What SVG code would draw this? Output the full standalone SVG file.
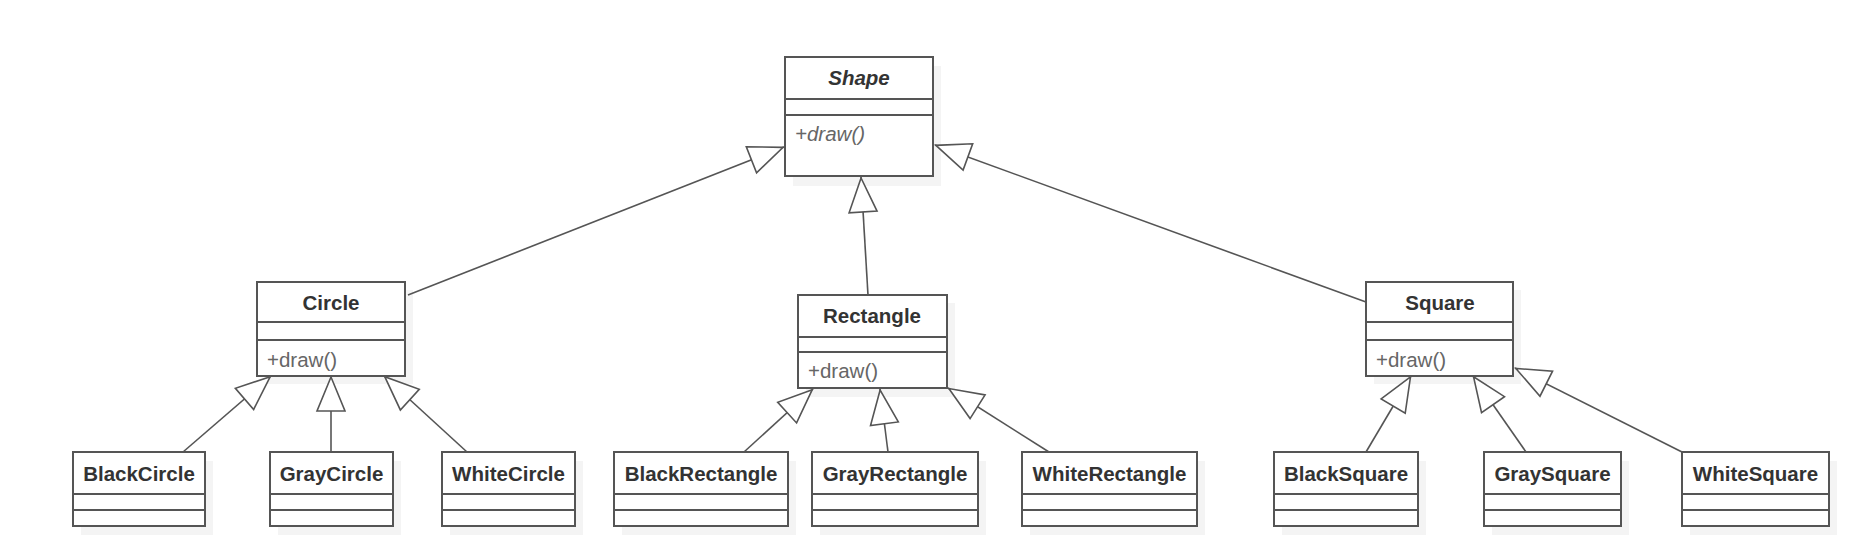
<svg xmlns="http://www.w3.org/2000/svg" width="1858" height="552" viewBox="0 0 1858 552">
<defs>
<style>
.box{fill:#fff;stroke:#555;stroke-width:2}
.sh{fill:#f4f4f4;stroke:none}
.div{stroke:#555;stroke-width:2}
.name{font-family:"Liberation Sans",Arial,sans-serif;font-weight:bold;font-size:20.5px;fill:#333;text-anchor:middle}
.op{font-family:"Liberation Sans",Arial,sans-serif;font-size:20.5px;fill:#666}
.edge{stroke:#555;stroke-width:1.6;fill:none;marker-end:url(#gen)}
</style>
<marker id="gen" markerUnits="userSpaceOnUse" markerWidth="40" markerHeight="40" refX="0" refY="0" orient="auto" overflow="visible">
<path d="M-1,0 L-35,-14 L-35,14 Z" fill="#fff" stroke="#555" stroke-width="1.6" stroke-linejoin="miter"/>
</marker>
</defs>
<rect width="1858" height="552" fill="#fff"/>

<g id="Shape">
<rect class="sh" x="793" y="66" width="148" height="120"/>
<rect class="box" x="785" y="57" width="148" height="119"/>
<line class="div" x1="785" y1="99" x2="933" y2="99"/>
<line class="div" x1="785" y1="115" x2="933" y2="115"/>
<text class="name" x="859" y="85" font-style="italic">Shape</text>
<text class="op" x="795" y="141" font-style="italic">+draw()</text>
</g>

<g id="Circle">
<rect class="sh" x="265" y="290" width="148" height="94"/>
<rect class="box" x="257" y="282" width="148" height="94"/>
<line class="div" x1="257" y1="322" x2="405" y2="322"/>
<line class="div" x1="257" y1="340" x2="405" y2="340"/>
<text class="name" x="331" y="310">Circle</text>
<text class="op" x="267" y="367">+draw()</text>
</g>

<g id="Rectangle">
<rect class="sh" x="806" y="303" width="149" height="94"/>
<rect class="box" x="798" y="295" width="149" height="93"/>
<line class="div" x1="798" y1="337" x2="947" y2="337"/>
<line class="div" x1="798" y1="352" x2="947" y2="352"/>
<text class="name" x="872" y="323">Rectangle</text>
<text class="op" x="808" y="378">+draw()</text>
</g>

<g id="Square">
<rect class="sh" x="1374" y="290" width="147" height="94"/>
<rect class="box" x="1366" y="282" width="147" height="94"/>
<line class="div" x1="1366" y1="322" x2="1513" y2="322"/>
<line class="div" x1="1366" y1="340" x2="1513" y2="340"/>
<text class="name" x="1440" y="310">Square</text>
<text class="op" x="1376" y="367">+draw()</text>
</g>

<g id="BlackCircle">
<rect class="sh" x="81" y="461" width="132" height="74"/>
<rect class="box" x="73" y="452" width="132" height="74"/>
<line class="div" x1="73" y1="494" x2="205" y2="494"/>
<line class="div" x1="73" y1="510" x2="205" y2="510"/>
<text class="name" x="139" y="481">BlackCircle</text>
</g>

<g id="GrayCircle">
<rect class="sh" x="278" y="461" width="123" height="74"/>
<rect class="box" x="270" y="452" width="123" height="74"/>
<line class="div" x1="270" y1="494" x2="393" y2="494"/>
<line class="div" x1="270" y1="510" x2="393" y2="510"/>
<text class="name" x="331.5" y="481">GrayCircle</text>
</g>

<g id="WhiteCircle">
<rect class="sh" x="450" y="461" width="133" height="74"/>
<rect class="box" x="442" y="452" width="133" height="74"/>
<line class="div" x1="442" y1="494" x2="575" y2="494"/>
<line class="div" x1="442" y1="510" x2="575" y2="510"/>
<text class="name" x="508.5" y="481">WhiteCircle</text>
</g>

<g id="BlackRectangle">
<rect class="sh" x="622" y="461" width="174" height="74"/>
<rect class="box" x="614" y="452" width="174" height="74"/>
<line class="div" x1="614" y1="494" x2="788" y2="494"/>
<line class="div" x1="614" y1="510" x2="788" y2="510"/>
<text class="name" x="701" y="481">BlackRectangle</text>
</g>

<g id="GrayRectangle">
<rect class="sh" x="820" y="461" width="166" height="74"/>
<rect class="box" x="812" y="452" width="166" height="74"/>
<line class="div" x1="812" y1="494" x2="978" y2="494"/>
<line class="div" x1="812" y1="510" x2="978" y2="510"/>
<text class="name" x="895" y="481">GrayRectangle</text>
</g>

<g id="WhiteRectangle">
<rect class="sh" x="1030" y="461" width="175" height="74"/>
<rect class="box" x="1022" y="452" width="175" height="74"/>
<line class="div" x1="1022" y1="494" x2="1197" y2="494"/>
<line class="div" x1="1022" y1="510" x2="1197" y2="510"/>
<text class="name" x="1109.5" y="481">WhiteRectangle</text>
</g>

<g id="BlackSquare">
<rect class="sh" x="1282" y="461" width="144" height="74"/>
<rect class="box" x="1274" y="452" width="144" height="74"/>
<line class="div" x1="1274" y1="494" x2="1418" y2="494"/>
<line class="div" x1="1274" y1="510" x2="1418" y2="510"/>
<text class="name" x="1346" y="481">BlackSquare</text>
</g>

<g id="GraySquare">
<rect class="sh" x="1492" y="461" width="137" height="74"/>
<rect class="box" x="1484" y="452" width="137" height="74"/>
<line class="div" x1="1484" y1="494" x2="1621" y2="494"/>
<line class="div" x1="1484" y1="510" x2="1621" y2="510"/>
<text class="name" x="1552.5" y="481">GraySquare</text>
</g>

<g id="WhiteSquare">
<rect class="sh" x="1690" y="461" width="147" height="74"/>
<rect class="box" x="1682" y="452" width="147" height="74"/>
<line class="div" x1="1682" y1="494" x2="1829" y2="494"/>
<line class="div" x1="1682" y1="510" x2="1829" y2="510"/>
<text class="name" x="1755.5" y="481">WhiteSquare</text>
</g>

<g id="connectors">
<line class="edge" x1="408" y1="295" x2="784" y2="147"/>
<line class="edge" x1="868" y1="295" x2="861" y2="177"/>
<line class="edge" x1="1366" y1="302" x2="935" y2="145"/>
<line class="edge" x1="183" y1="452" x2="271" y2="376"/>
<line class="edge" x1="331" y1="452" x2="331" y2="376"/>
<line class="edge" x1="467" y1="452" x2="384" y2="376"/>
<line class="edge" x1="744" y1="452" x2="813" y2="389"/>
<line class="edge" x1="888" y1="452" x2="880" y2="389"/>
<line class="edge" x1="1049" y1="452" x2="948" y2="388"/>
<line class="edge" x1="1366" y1="452" x2="1411" y2="376"/>
<line class="edge" x1="1526" y1="452" x2="1473" y2="376"/>
<line class="edge" x1="1682" y1="452" x2="1515" y2="368"/>
</g>
</svg>
